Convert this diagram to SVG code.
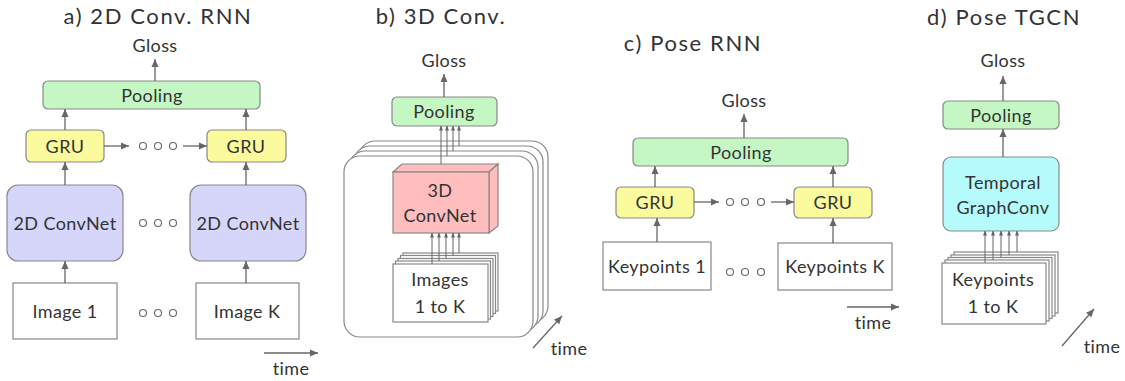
<svg xmlns="http://www.w3.org/2000/svg" width="1125" height="381" viewBox="0 0 1125 381">
<defs>
<marker id="ah" markerUnits="userSpaceOnUse" markerWidth="10" markerHeight="10" viewBox="0 0 10 10" refX="9" refY="5" orient="auto"><path d="M1,1.5 L9,5 L1,8.5 Z" fill="#666"/></marker>
<marker id="as" markerUnits="userSpaceOnUse" markerWidth="5" markerHeight="5" viewBox="0 0 10 10" refX="9" refY="5" orient="auto"><path d="M0,1 L10,5 L0,9 Z" fill="#666"/></marker>
<style>
text{font-family:Lato,"Noto Sans",sans-serif;fill:#333;text-anchor:middle}
.t{font-size:22px;letter-spacing:1.6px}
.l{font-size:18px;letter-spacing:0.4px}
.pool{fill:#c4f7c4;stroke:#888;stroke-width:1.2}
.gru{fill:#fbfb9e;stroke:#888;stroke-width:1.2}
.cnn{fill:#d6d6fb;stroke:#888;stroke-width:1.2}
.tgc{fill:#b6fbfb;stroke:#888;stroke-width:1.2}
.box{fill:#fff;stroke:#888;stroke-width:1.2}
.red{fill:#ffbdbd;stroke:#888;stroke-width:1.2}
.dot{fill:#fff;stroke:#666;stroke-width:1.1}
.c line,.c path{stroke:#666;stroke-width:1.3;fill:none}
.c .a{marker-end:url(#ah)}
.c .s{marker-end:url(#as);stroke-width:1}
</style>
</defs>
<rect width="1125" height="381" fill="#fff"/>

<!-- titles -->
<text class="t" x="158" y="24">a) 2D Conv. RNN</text>
<text class="t" x="441" y="24">b) 3D Conv.</text>
<text class="t" x="693" y="51">c) Pose RNN</text>
<text class="t" x="1004" y="25">d) Pose TGCN</text>

<!-- Panel a -->
<g id="a-gloss"><text class="l" x="155" y="52">Gloss</text></g>
<g id="a-pool"><rect class="pool" x="43" y="81" width="217" height="28" rx="5"/><text class="l" x="152" y="101.5">Pooling</text></g>
<g id="a-gru1"><rect class="gru" x="26" y="130" width="78" height="32" rx="5"/><text class="l" x="65" y="152.5">GRU</text></g>
<g id="a-gru2"><rect class="gru" x="207" y="130" width="79" height="32" rx="5"/><text class="l" x="246" y="152.5">GRU</text></g>
<g id="a-cnn1"><rect class="cnn" x="7" y="185" width="116" height="76" rx="11"/><text class="l" x="65" y="229.5">2D ConvNet</text></g>
<g id="a-cnn2"><rect class="cnn" x="190" y="185" width="116" height="76" rx="11"/><text class="l" x="248" y="229.5">2D ConvNet</text></g>
<g id="a-img1"><rect class="box" x="13" y="283" width="104" height="56"/><text class="l" x="65" y="317.5">Image 1</text></g>
<g id="a-imgk"><rect class="box" x="196" y="283" width="103" height="56"/><text class="l" x="247" y="317.5">Image K</text></g>
<g id="a-dots">
<circle class="dot" cx="143" cy="146" r="3.5"/><circle class="dot" cx="158" cy="146" r="3.5"/><circle class="dot" cx="173" cy="146" r="3.5"/>
<circle class="dot" cx="143" cy="223" r="3.5"/><circle class="dot" cx="158" cy="223" r="3.5"/><circle class="dot" cx="173" cy="223" r="3.5"/>
<circle class="dot" cx="143" cy="313" r="3.5"/><circle class="dot" cx="158" cy="313" r="3.5"/><circle class="dot" cx="173" cy="313" r="3.5"/>
</g>
<g id="a-time"><text class="l" x="291" y="375">time</text></g>

<!-- Panel b -->
<g id="b-gloss"><text class="l" x="444" y="67">Gloss</text></g>
<g id="b-pool"><rect class="pool" x="392" y="97" width="105" height="29" rx="5"/><text class="l" x="444" y="117.5">Pooling</text></g>
<g id="b-stack">
<rect class="box" x="359" y="141" width="189" height="181" rx="16"/>
<rect class="box" x="354" y="146" width="189" height="181" rx="16"/>
<rect class="box" x="349" y="151" width="189" height="181" rx="16"/>
<rect class="box" x="344" y="156" width="189" height="181" rx="16"/>
</g>
<g id="b-cnn">
<path class="red" d="M393,172 L402,164 L498,164 L489,172 Z"/>
<path class="red" d="M489,172 L498,164 L498,226 L489,233 Z"/>
<rect class="red" x="393" y="172" width="96" height="61"/>
<text class="l" x="440" y="196.5">3D</text><text class="l" x="440" y="221.5">ConvNet</text>
</g>
<g id="b-images">
<rect class="box" x="403" y="253" width="95" height="58"/>
<rect class="box" x="400.5" y="255.5" width="95" height="58"/>
<rect class="box" x="398" y="258.5" width="95" height="58"/>
<rect class="box" x="395.5" y="261" width="95" height="58"/>
<rect class="box" x="393" y="264" width="95" height="58"/>
<text class="l" x="440" y="285.5">Images</text><text class="l" x="440" y="312.5">1 to K</text>
</g>
<g id="b-time"><text class="l" x="569" y="355">time</text></g>

<!-- Panel c -->
<g id="c-gloss"><text class="l" x="744" y="107">Gloss</text></g>
<g id="c-pool"><rect class="pool" x="633" y="138" width="215" height="28" rx="5"/><text class="l" x="741" y="158.5">Pooling</text></g>
<g id="c-gru1"><rect class="gru" x="616" y="187" width="78" height="31" rx="5"/><text class="l" x="655" y="209">GRU</text></g>
<g id="c-gru2"><rect class="gru" x="794" y="187" width="78" height="31" rx="5"/><text class="l" x="833" y="209">GRU</text></g>
<g id="c-kp1"><rect class="box" x="603" y="242" width="108" height="48"/><text class="l" x="657" y="272.5">Keypoints 1</text></g>
<g id="c-kpk"><rect class="box" x="778" y="243" width="114" height="47"/><text class="l" x="835" y="272.5">Keypoints K</text></g>
<g id="c-dots">
<circle class="dot" cx="730" cy="202" r="3.5"/><circle class="dot" cx="745" cy="202" r="3.5"/><circle class="dot" cx="761" cy="202" r="3.5"/>
<circle class="dot" cx="730" cy="272" r="3.5"/><circle class="dot" cx="745" cy="272" r="3.5"/><circle class="dot" cx="761" cy="272" r="3.5"/>
</g>
<g id="c-time"><text class="l" x="873" y="329">time</text></g>

<!-- Panel d -->
<g id="d-gloss"><text class="l" x="1003" y="67">Gloss</text></g>
<g id="d-pool"><rect class="pool" x="943" y="101" width="116" height="28" rx="5"/><text class="l" x="1001" y="121.5">Pooling</text></g>
<g id="d-tgc"><rect class="tgc" x="943" y="157" width="116" height="74" rx="8"/><text class="l" x="1003" y="188.5">Temporal</text><text class="l" x="1003" y="213.5">GraphConv</text></g>
<g id="d-kp">
<rect class="box" x="954" y="252" width="104" height="61"/>
<rect class="box" x="951" y="255" width="104" height="61"/>
<rect class="box" x="948" y="257.5" width="104" height="61"/>
<rect class="box" x="945" y="260" width="104" height="61"/>
<rect class="box" x="942" y="263" width="104" height="61"/>
<text class="l" x="993" y="285.5">Keypoints</text><text class="l" x="993" y="312.5">1 to K</text>
</g>
<g id="d-time"><text class="l" x="1102" y="353">time</text></g>

<!-- connectors -->
<g id="connectors" class="c">
<line class="a" x1="155" y1="81" x2="155" y2="59"/>
<line class="a" x1="65" y1="130" x2="65" y2="109"/>
<line class="a" x1="246" y1="130" x2="246" y2="109"/>
<line class="a" x1="104" y1="146" x2="129" y2="146"/>
<line class="a" x1="183" y1="146" x2="207" y2="146"/>
<line class="a" x1="65" y1="185" x2="65" y2="162"/>
<line class="a" x1="246" y1="185" x2="246" y2="162"/>
<line class="a" x1="65" y1="283" x2="65" y2="261"/>
<line class="a" x1="246" y1="283" x2="246" y2="261"/>
<line class="a" x1="264" y1="353" x2="318" y2="353"/>

<line class="a" x1="444" y1="97" x2="444" y2="74"/>
<line class="s" x1="441" y1="164" x2="441" y2="126"/>
<line class="s" x1="447" y1="156" x2="447" y2="126"/>
<line class="s" x1="453" y1="151" x2="453" y2="126"/>
<line class="s" x1="459" y1="146" x2="459" y2="126"/>
<line class="s" x1="432" y1="264" x2="432" y2="233"/>
<line class="s" x1="439" y1="261" x2="439" y2="233"/>
<line class="s" x1="446" y1="258.5" x2="446" y2="233"/>
<line class="s" x1="453" y1="255.5" x2="453" y2="233"/>
<line class="s" x1="459" y1="253" x2="459" y2="233"/>
<line class="a" x1="533" y1="348" x2="562" y2="316"/>

<line class="a" x1="744" y1="138" x2="744" y2="114"/>
<line class="a" x1="655" y1="187" x2="655" y2="166"/>
<line class="a" x1="833" y1="187" x2="833" y2="166"/>
<line class="a" x1="694" y1="202" x2="719" y2="202"/>
<line class="a" x1="771" y1="202" x2="794" y2="202"/>
<line class="a" x1="657" y1="242" x2="657" y2="218"/>
<line class="a" x1="833" y1="243" x2="833" y2="218"/>
<line class="a" x1="847" y1="307" x2="899" y2="307"/>

<line class="a" x1="1003" y1="101" x2="1003" y2="76"/>
<line class="a" x1="1003" y1="157" x2="1003" y2="129"/>
<line class="s" x1="985" y1="263" x2="985" y2="231"/>
<line class="s" x1="993" y1="260" x2="993" y2="231"/>
<line class="s" x1="1001" y1="257.5" x2="1001" y2="231"/>
<line class="s" x1="1009" y1="255" x2="1009" y2="231"/>
<line class="s" x1="1017" y1="252" x2="1017" y2="231"/>
<line class="a" x1="1062" y1="346" x2="1094" y2="309"/>
</g>
</svg>
